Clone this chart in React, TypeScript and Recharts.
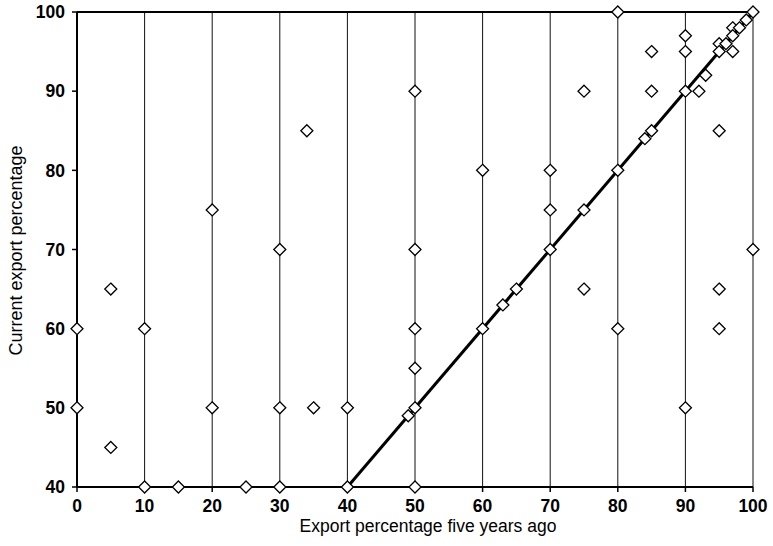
import React from 'react';
import {
  ScatterChart,
  Scatter,
  XAxis,
  YAxis,
  CartesianGrid,
} from 'recharts';

// export share five years ago (x) vs today (y), one entry per firm
const pastPct = [
  0, 0, 5, 5, 10, 10, 15, 20, 20, 25, 30, 30, 30, 34, 35, 40, 40, 49, 50, 50,
  50, 50, 50, 50, 60, 60, 63, 65, 70, 70, 70, 75, 75, 75, 80, 80, 80, 84, 85, 85,
  85, 90, 90, 90, 90, 92, 93, 95, 95, 95, 95, 95, 96, 97, 97, 97, 98, 99, 100, 100,
];
const currentPct = [
  60, 50, 65, 45, 60, 40, 40, 75, 50, 40, 70, 50, 40, 85, 50, 50, 40, 49, 90, 70,
  60, 55, 50, 40, 80, 60, 63, 65, 80, 75, 70, 90, 75, 65, 100, 80, 60, 84, 95, 90,
  85, 97, 95, 90, 50, 90, 92, 96, 95, 85, 65, 60, 96, 98, 97, 95, 98, 99, 100, 70,
];

// 45-degree line from (40,40) up to (100,100)
const diagX = [40, 100];
const diagY = [40, 100];

// frame along the top edge
const topX = [0, 100];
const topY = [100, 100];

const xTicks = [0, 10, 20, 30, 40, 50, 60, 70, 80, 90, 100];
const yTicks = [40, 50, 60, 70, 80, 90, 100];

const points = pastPct.map((x, i) => ({ x, y: currentPct[i] }));
const diagonal = diagX.map((x, i) => ({ x, y: diagY[i] }));
const topEdge = topX.map((x, i) => ({ x, y: topY[i] }));

const FONT = '"Liberation Sans", Arial, Helvetica, sans-serif';

const Diamond = (props: any) => {
  const { cx, cy } = props;
  if (cx == null || cy == null) return null;
  const r = 6;
  return (
    <polygon
      points={`${cx},${cy - r} ${cx + r},${cy} ${cx},${cy + r} ${cx - r},${cy}`}
      fill="#fff"
      stroke="#000"
      strokeWidth={1.3}
    />
  );
};

const Nothing = () => null;

const tickStyle = { fill: '#000', fontSize: 17.5, fontFamily: FONT, fontWeight: 'bold' as const };

export default function App() {
  return (
    <div style={{ position: 'absolute', left: 0, top: 0, fontFamily: FONT, background: '#fff' }}>
      <ScatterChart
        width={773}
        height={546}
        margin={{ top: 12, right: 20, bottom: 9, left: 17 }}
      >
        <CartesianGrid horizontal={false} stroke="#111" strokeWidth={1} />
        <XAxis
          type="number"
          dataKey="x"
          domain={[0, 100]}
          ticks={xTicks}
          interval={0}
          height={50}
          tickSize={5}
          tickMargin={8}
          axisLine={{ stroke: '#000', strokeWidth: 2 }}
          tickLine={{ stroke: '#000', strokeWidth: 1.5 }}
          tick={tickStyle}
          label={{
            value: 'Export percentage five years ago',
            position: 'insideBottom',
            offset: 5,
            dx: 13,
            style: { fill: '#000', fontSize: 17.5, fontFamily: FONT },
          }}
        />
        <YAxis
          type="number"
          dataKey="y"
          domain={[40, 100]}
          ticks={yTicks}
          interval={0}
          width={60}
          tickSize={5}
          tickMargin={7}
          axisLine={{ stroke: '#000', strokeWidth: 2 }}
          tickLine={{ stroke: '#000', strokeWidth: 1.5 }}
          tick={tickStyle}
          label={{
            value: 'Current export percentage',
            angle: -90,
            position: 'insideLeft',
            offset: -1,
            dy: 1,
            style: { textAnchor: 'middle', fill: '#000', fontSize: 18, fontFamily: FONT },
          }}
        />
        <Scatter
          data={topEdge}
          line={{ stroke: '#000', strokeWidth: 2 }}
          shape={Nothing}
          isAnimationActive={false}
        />
        <Scatter
          data={diagonal}
          line={{ stroke: '#000', strokeWidth: 3 }}
          shape={Nothing}
          isAnimationActive={false}
        />
        <Scatter data={points} shape={Diamond} isAnimationActive={false} />
      </ScatterChart>
    </div>
  );
}
